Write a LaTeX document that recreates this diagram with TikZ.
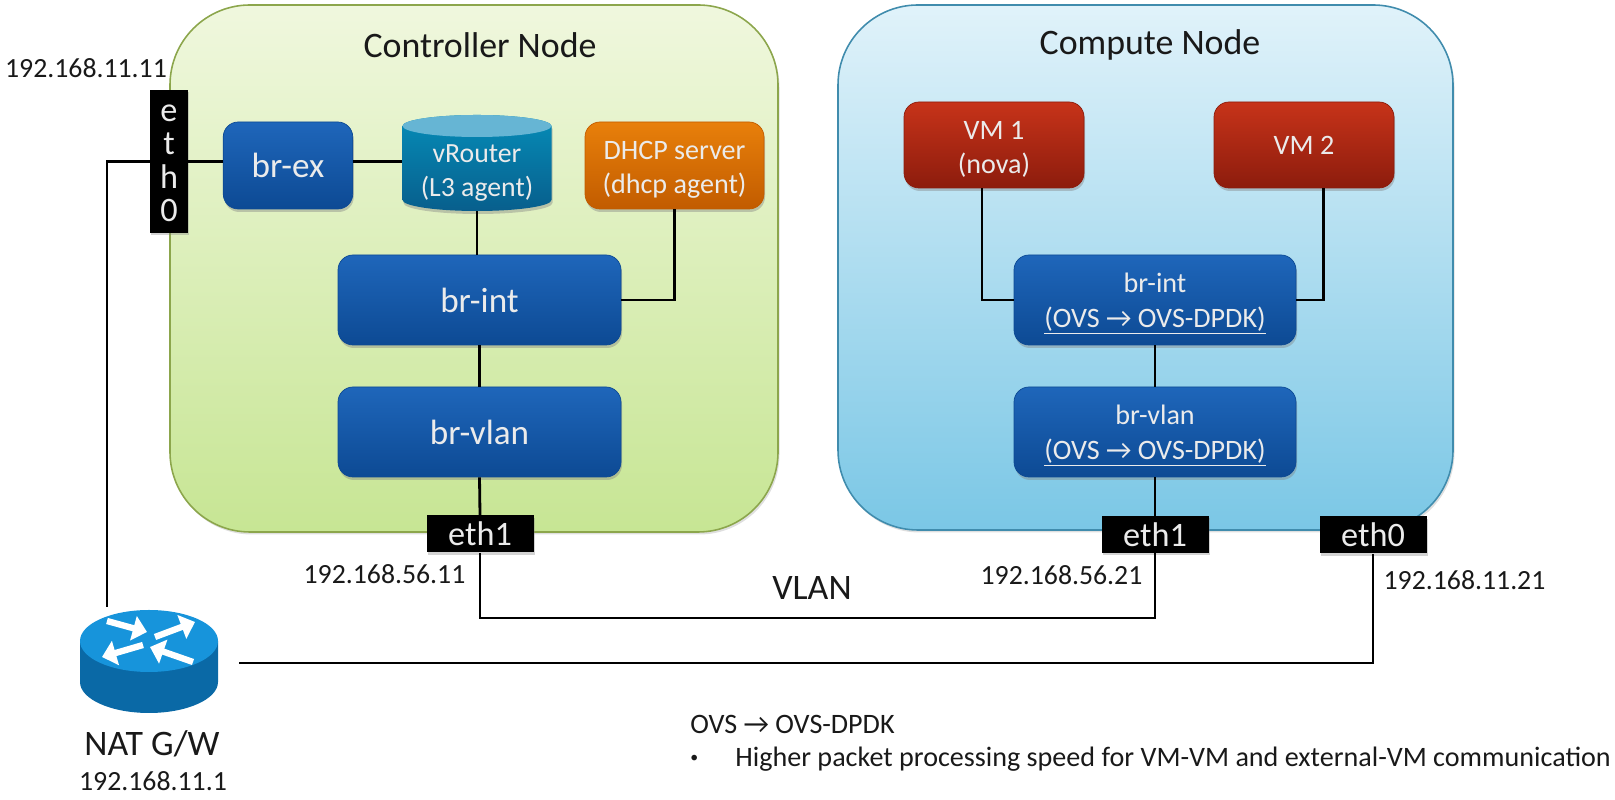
\documentclass[tikz,border=0pt]{standalone}
\usepackage{fontspec}
\setmainfont{Carlito}
\usetikzlibrary{positioning, calc, shadows, arrows.meta}
\definecolor{ctrltop}{rgb}{0.94, 0.97, 0.87}
\definecolor{ctrlbot}{rgb}{0.78, 0.90, 0.58}
\definecolor{ctrledge}{rgb}{0.55, 0.65, 0.30}
\definecolor{comptop}{rgb}{0.88, 0.95, 0.98}
\definecolor{compbot}{rgb}{0.48, 0.78, 0.90}
\definecolor{compedge}{rgb}{0.25, 0.55, 0.68}
\definecolor{brtop}{rgb}{0.12, 0.40, 0.73}
\definecolor{brbot}{rgb}{0.05, 0.29, 0.58}
\definecolor{dhcptop}{rgb}{0.91, 0.50, 0.04}
\definecolor{dhcpbot}{rgb}{0.76, 0.36, 0.00}
\definecolor{vmtop}{rgb}{0.78, 0.20, 0.10}
\definecolor{vmbot}{rgb}{0.55, 0.11, 0.05}
\definecolor{vrtop}{rgb}{0.02, 0.55, 0.72}
\definecolor{vrbot}{rgb}{0.03, 0.37, 0.55}
\definecolor{vrend}{rgb}{0.40, 0.71, 0.83}
\definecolor{natbody}{rgb}{0.04, 0.41, 0.65}
\definecolor{natend}{rgb}{0.09, 0.58, 0.86}
\newcommand{\linedrop}{\rule{0pt}{0.55cm}}
\tikzset{
  host/.style={rectangle, rounded corners=1.6cm, line width=0.9pt,
               minimum width=12.2cm, minimum height=10.5cm},
  ctrl host/.style={host, draw=ctrledge, top color=ctrltop, bottom color=ctrlbot,
                    drop shadow={opacity=0.25, shadow xshift=0.03cm, shadow yshift=-0.05cm}},
  comp host/.style={host, draw=compedge, top color=comptop, bottom color=compbot,
                    drop shadow={opacity=0.25, shadow xshift=0.03cm, shadow yshift=-0.05cm}},
  tensorbox/.style={rectangle, rounded corners=0.3cm, inner sep=0pt, align=center,
                    text=white!92!black, font=\fontsize{16}{19.5}\selectfont,
                    drop shadow={opacity=0.4, shadow xshift=0.02cm, shadow yshift=-0.06cm}},
  bridge/.style={tensorbox, draw=brbot, top color=brtop, bottom color=brbot},
  big bridge/.style={bridge, minimum width=5.66cm, minimum height=1.80cm,
                     font=\fontsize{20}{24}\selectfont},
  ovs bridge/.style={bridge, minimum width=5.64cm, minimum height=1.80cm},
  dhcp block/.style={tensorbox, draw=dhcpbot, top color=dhcptop, bottom color=dhcpbot,
                     minimum width=3.58cm, minimum height=1.74cm},
  vm block/.style={tensorbox, draw=vmbot, top color=vmtop, bottom color=vmbot,
                   minimum width=3.60cm, minimum height=1.72cm},
  port/.style={rectangle, fill=black, text=white!92!black, inner sep=0pt, align=center,
               font=\fontsize{19.5}{19}\selectfont,
               drop shadow={opacity=0.35, shadow xshift=0.02cm, shadow yshift=-0.05cm}},
  wide port/.style={port, minimum width=2.14cm, minimum height=0.74cm},
  drum text/.style={rectangle, inner sep=0pt, align=center, text=white!92!black,
                    minimum width=2.98cm, minimum height=1.70cm,
                    font=\fontsize{15.8}{19.5}\selectfont},
  lbl/.style={font=\fontsize{20.4}{24}\selectfont, text=black!90},
  annot/.style={font=\fontsize{15.8}{19}\selectfont, text=black!90},
  note text/.style={annot, anchor=west, inner sep=0pt, font=\fontsize{16}{19}\selectfont},
  wire/.style={line width=1.6pt, black},
  nat arrow/.style={-{Triangle[length=8pt, width=14pt]}, line width=3.6pt, white},
}
\begin{document}
\begin{tikzpicture}
    \useasboundingbox (0,0) rectangle (32.30,16);

    \node[ctrl host, minimum width=12.16cm, minimum height=10.54cm] (ctrl) at (9.48,10.63) {};
    \node[comp host, minimum width=12.30cm] (comp) at (22.91,10.65) {};
    \node[lbl] (ctrl_title) at (9.60,15.10) {Controller Node};
    \node[lbl] (comp_title) at (23.00,15.10) {Compute Node};

    % controller node
    \node[annot] (ip_ctrl_0) at (1.72,14.64) {192.168.11.11};
    \node[port, minimum width=0.75cm, minimum height=2.86cm] (ctrl_eth0) at (3.38,12.77) {\rule{0pt}{0.40cm}e\\t\\h\\0};
    \node[bridge, minimum width=2.59cm, minimum height=1.74cm, font=\fontsize{20}{24}\selectfont] (br_ex) at (5.76,12.69) {br-ex};
    \shade[top color=vrtop, bottom color=vrbot,
           drop shadow={opacity=0.4, shadow xshift=0.02cm, shadow yshift=-0.06cm}]
        (8.05,13.48) -- (8.05,12.00) arc[start angle=180, end angle=360, x radius=1.49, y radius=0.22]
        -- (11.03,13.48) arc[start angle=0, end angle=180, x radius=1.49, y radius=0.22] -- cycle;
    \fill[vrend] (9.54,13.48) ellipse (1.49 and 0.22);
    \node[drum text] (vrouter) at (9.54,12.63) {\linedrop vRouter\\(L3 agent)};
    \node[dhcp block] (dhcp) at (13.49,12.69) {\linedrop DHCP server\\(dhcp agent)};
    \node[big bridge] (ctrl_int) at (9.59,10.00) {br-int};
    \node[big bridge] (ctrl_vlan) at (9.59,7.36) {br-vlan};
    \node[wide port] (ctrl_eth1) at (9.60,5.32) {eth1};
    \node[annot] (ip_ctrl_1) at (7.69,4.52) {192.168.56.11};

    % compute node
    \node[vm block] (vm_1) at (19.88,13.10) {\linedrop VM 1\\(nova)};
    \node[vm block] (vm_2) at (26.08,13.10) {VM 2};
    \node[ovs bridge] (comp_int) at (23.10,10.00) {\linedrop br-int\\\underline{(OVS → OVS-DPDK)}};
    \node[ovs bridge] (comp_vlan) at (23.10,7.36) {\linedrop br-vlan\\\underline{(OVS → OVS-DPDK)}};
    \node[wide port] (comp_eth1) at (23.10,5.31) {eth1};
    \node[wide port] (comp_eth0) at (27.46,5.30) {eth0};
    \node[annot] (ip_comp_1) at (21.23,4.50) {192.168.56.21};
    \node[annot] (ip_comp_0) at (29.29,4.40) {192.168.11.21};
    \node[lbl] (vlan) at (16.24,4.24) {VLAN};

    % gateway
    \fill[natbody] (1.60,3.18) -- (1.60,2.36) arc[start angle=180, end angle=360, x radius=1.38, y radius=0.62]
        -- (4.36,3.18) -- cycle;
    \fill[natend] (2.98,3.18) ellipse (1.38 and 0.62);
    \draw[nat arrow] (2.14,3.58) -- (2.94,3.36);
    \draw[nat arrow] (3.10,3.26) -- (3.90,3.56);
    \draw[nat arrow] (2.86,3.10) -- (2.04,2.86);
    \draw[nat arrow] (3.86,2.76) -- (3.00,3.06);
    \node[lbl] (nat_lbl) at (3.04,1.12) {NAT G/W};
    \node[annot] (ip_nat) at (3.06,0.38) {192.168.11.1};

    \coordinate (nat_top) at (2.14,3.86);
    \coordinate (nat_right) at (4.78,2.74);
    \coordinate (vlan_wire) at (16.24,3.64);

    \draw[wire] (nat_top) |- (ctrl_eth0.west);
    \draw[wire] (ctrl_eth0.east) -- (br_ex.west |- ctrl_eth0.east);
    \draw[wire] (br_ex.east |- ctrl_eth0.east) -- (vrouter.west |- ctrl_eth0.east);
    \draw[wire] (vrouter.south) -- (ctrl_int.north -| vrouter.south);
    \draw[wire] (dhcp.south) |- (ctrl_int.east);
    \draw[wire] (ctrl_int.south) -- (ctrl_vlan.north);
    \draw[wire] (ctrl_vlan.south) -- (ctrl_eth1.north);
    \draw[wire] (ctrl_eth1.south) |- (vlan_wire) -| (comp_eth1.south);
    \draw[wire] (nat_right) -| (comp_eth0.south);
    \draw[wire] ($(vm_1.south)+(-0.24,0)$) |- (comp_int.west);
    \draw[wire] ($(vm_2.south)+(0.39,0)$) |- (comp_int.east);
    \draw[wire] (comp_int.south) -- (comp_vlan.north);
    \draw[wire] (comp_vlan.south) -- (comp_eth1.north);

    % note
    \node[note text] (note) at (13.80,1.52) {OVS → OVS-DPDK};
    \node[note text, font=\fontsize{9}{10}\selectfont] (note_dot) at (13.80,0.82) {•};
    \node[note text] (note_txt) at (14.70,0.82) {Higher packet processing speed for VM-VM and external-VM communication};
\end{tikzpicture}
\end{document}
